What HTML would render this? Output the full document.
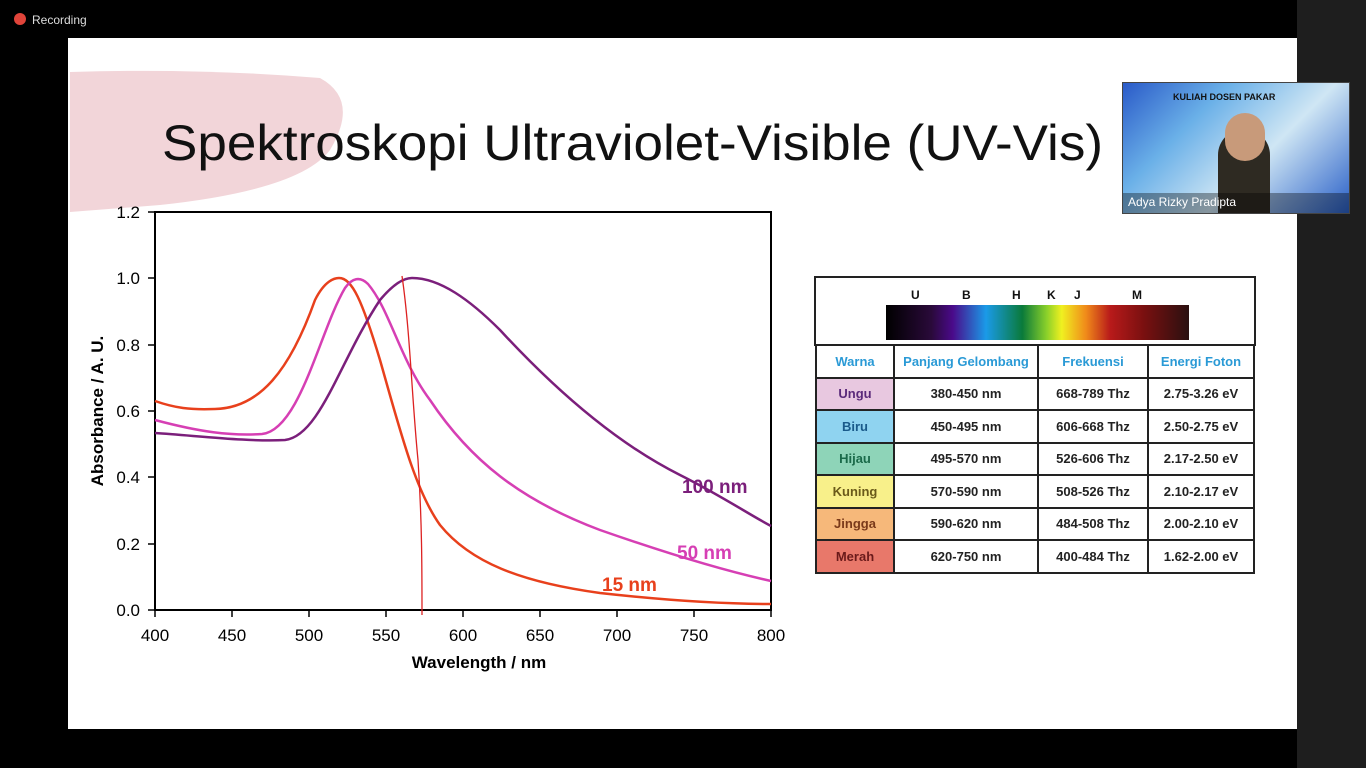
<!DOCTYPE html><html><head><style>
body{margin:0;width:1366px;height:768px;background:#000;overflow:hidden;font-family:"Liberation Sans",sans-serif;position:relative}
.slide{position:absolute;left:68px;top:38px;width:1229px;height:691px;background:#fff}
.rside{position:absolute;left:1297px;top:0;width:69px;height:768px;background:#1e1e1e}
.t{position:absolute}
table{position:absolute;left:815px;top:344px;border-collapse:collapse;font-size:13px;font-weight:bold}
td{border:2px solid #222;text-align:center;height:30.5px;padding:0;color:#222}
</style></head><body>
<div class="rside"></div>
<div class="t" style="left:14px;top:13px;width:12px;height:12px;border-radius:50%;background:#e0443a"></div>
<div class="t" style="left:32px;top:13px;color:#ddd;font-size:12px">Recording</div>
<div class="slide"></div>
<svg class="t" style="left:0;top:0" width="1366" height="768">
<path d="M70 72 Q200 68 320 78 Q360 100 330 150 Q300 190 160 205 L70 212 Z" fill="#f2d5d9"/>
<text x="162" y="160" font-size="50" fill="#111" font-family="Liberation Sans" textLength="941" lengthAdjust="spacingAndGlyphs">Spektroskopi Ultraviolet-Visible (UV-Vis)</text>
<rect x="155" y="212" width="616" height="398" fill="#fff" stroke="#000" stroke-width="2"/>
<g font-size="17" fill="#000" text-anchor="end">
<text x="140" y="218">1.2</text><text x="140" y="284">1.0</text><text x="140" y="351">0.8</text><text x="140" y="417">0.6</text><text x="140" y="483">0.4</text><text x="140" y="550">0.2</text><text x="140" y="616">0.0</text></g>
<g stroke="#000" stroke-width="1.5"><line x1="148" y1="212" x2="155" y2="212"/><line x1="148" y1="278" x2="155" y2="278"/><line x1="148" y1="345" x2="155" y2="345"/><line x1="148" y1="411" x2="155" y2="411"/><line x1="148" y1="477" x2="155" y2="477"/><line x1="148" y1="544" x2="155" y2="544"/><line x1="148" y1="610" x2="155" y2="610"/>
<line x1="155" y1="610" x2="155" y2="617"/><line x1="232" y1="610" x2="232" y2="617"/><line x1="309" y1="610" x2="309" y2="617"/><line x1="386" y1="610" x2="386" y2="617"/><line x1="463" y1="610" x2="463" y2="617"/><line x1="540" y1="610" x2="540" y2="617"/><line x1="617" y1="610" x2="617" y2="617"/><line x1="694" y1="610" x2="694" y2="617"/><line x1="771" y1="610" x2="771" y2="617"/></g>
<g font-size="17" fill="#000" text-anchor="middle">
<text x="155" y="641">400</text><text x="232" y="641">450</text><text x="309" y="641">500</text><text x="386" y="641">550</text><text x="463" y="641">600</text><text x="540" y="641">650</text><text x="617" y="641">700</text><text x="694" y="641">750</text><text x="771" y="641">800</text></g>
<text x="479" y="668" font-size="17" font-weight="bold" text-anchor="middle">Wavelength / nm</text>
<text transform="translate(103,411) rotate(-90)" font-size="17" font-weight="bold" text-anchor="middle">Absorbance / A. U.</text>
<g fill="none" stroke-width="2.5">
<path d="M155 401 C175 408 190 410 215 409 C260 408 290 370 315 300 C325 280 335 278 339 278 C352 278 362 300 380 360 C400 430 415 490 440 525 C470 562 520 582 600 593 C680 602 730 604 771 604" stroke="#e8401c"/>
<path d="M155 420 C200 432 230 436 262 434 C300 430 320 330 345 288 C352 278 360 276 368 284 C390 310 400 360 430 400 C470 460 520 500 600 530 C680 558 730 572 771 581" stroke="#d63fb4"/>
<path d="M155 433 C200 436 250 442 285 440 C320 436 340 360 380 300 C395 282 405 278 412 278 C440 278 470 300 500 330 C560 395 620 445 680 475 C720 495 750 515 771 526" stroke="#7b1f7b"/>
<path d="M402 276 C410 330 412 400 418 460 C422 520 422 570 422 615" stroke="#d22" stroke-width="1.3"/>
</g>
<text x="682" y="493" font-size="19" font-weight="bold" fill="#7b1f7b">100 nm</text>
<text x="677" y="559" font-size="19" font-weight="bold" fill="#d63fb4">50 nm</text>
<text x="602" y="591" font-size="19" font-weight="bold" fill="#e8401c">15 nm</text>
<defs><linearGradient id="sp"><stop offset="0" stop-color="#000"/><stop offset=".15" stop-color="#2a0a3a"/><stop offset=".22" stop-color="#4a0a8a"/><stop offset=".33" stop-color="#1a9ae8"/><stop offset=".45" stop-color="#0a7a3a"/><stop offset=".53" stop-color="#8ad02a"/><stop offset=".58" stop-color="#f0f020"/><stop offset=".66" stop-color="#f08a1a"/><stop offset=".74" stop-color="#b81a1a"/><stop offset=".85" stop-color="#7a1010"/><stop offset="1" stop-color="#2a1010"/></linearGradient></defs>
<rect x="815" y="277" width="440" height="68" fill="#fff" stroke="#222" stroke-width="2"/>
<rect x="886" y="305" width="303" height="35" fill="url(#sp)"/>
<g font-size="12" font-weight="bold" fill="#111"><text x="911" y="299">U</text><text x="962" y="299">B</text><text x="1012" y="299">H</text><text x="1047" y="299">K</text><text x="1074" y="299">J</text><text x="1132" y="299">M</text></g>
</svg>
<table>
<tr><td style="width:76px;color:#2a9ad6">Warna</td><td style="width:142px;color:#2a9ad6">Panjang Gelombang</td><td style="width:108px;color:#2a9ad6">Frekuensi</td><td style="width:104px;color:#2a9ad6">Energi Foton</td></tr>
<tr><td style="background:#e8c8e0;color:#5a2a7a">Ungu</td><td>380-450 nm</td><td>668-789 Thz</td><td>2.75-3.26 eV</td></tr>
<tr><td style="background:#8fd3f0;color:#1a5a8a">Biru</td><td>450-495 nm</td><td>606-668 Thz</td><td>2.50-2.75 eV</td></tr>
<tr><td style="background:#8ed4b8;color:#1a6a4a">Hijau</td><td>495-570 nm</td><td>526-606 Thz</td><td>2.17-2.50 eV</td></tr>
<tr><td style="background:#f8f08a;color:#6a5a1a">Kuning</td><td>570-590 nm</td><td>508-526 Thz</td><td>2.10-2.17 eV</td></tr>
<tr><td style="background:#f6b87a;color:#7a3a1a">Jingga</td><td>590-620 nm</td><td>484-508 Thz</td><td>2.00-2.10 eV</td></tr>
<tr><td style="background:#e8786a;color:#6a1a1a">Merah</td><td>620-750 nm</td><td>400-484 Thz</td><td>1.62-2.00 eV</td></tr>
</table>
<div class="t" style="left:1122px;top:82px;width:226px;height:130px;background:linear-gradient(135deg,#2a5ac8 0%,#6ab0e8 30%,#cfe6f4 60%,#2a60c8 100%);border:1px solid #444">
<div class="t" style="left:50px;top:9px;font-size:9px;font-weight:bold;color:#111">KULIAH DOSEN PAKAR</div>
<div class="t" style="left:95px;top:46px;width:52px;height:84px;background:#2e2a22;border-radius:26px 26px 0 0"></div>
<div class="t" style="left:102px;top:30px;width:40px;height:48px;background:#c89a7a;border-radius:20px"></div>
<div class="t" style="left:0;top:110px;width:226px;height:20px;background:rgba(0,0,0,.35)"></div>
<div class="t" style="left:5px;top:112px;font-size:12px;color:#fff">Adya Rizky Pradipta</div>
</div>
</body></html>
